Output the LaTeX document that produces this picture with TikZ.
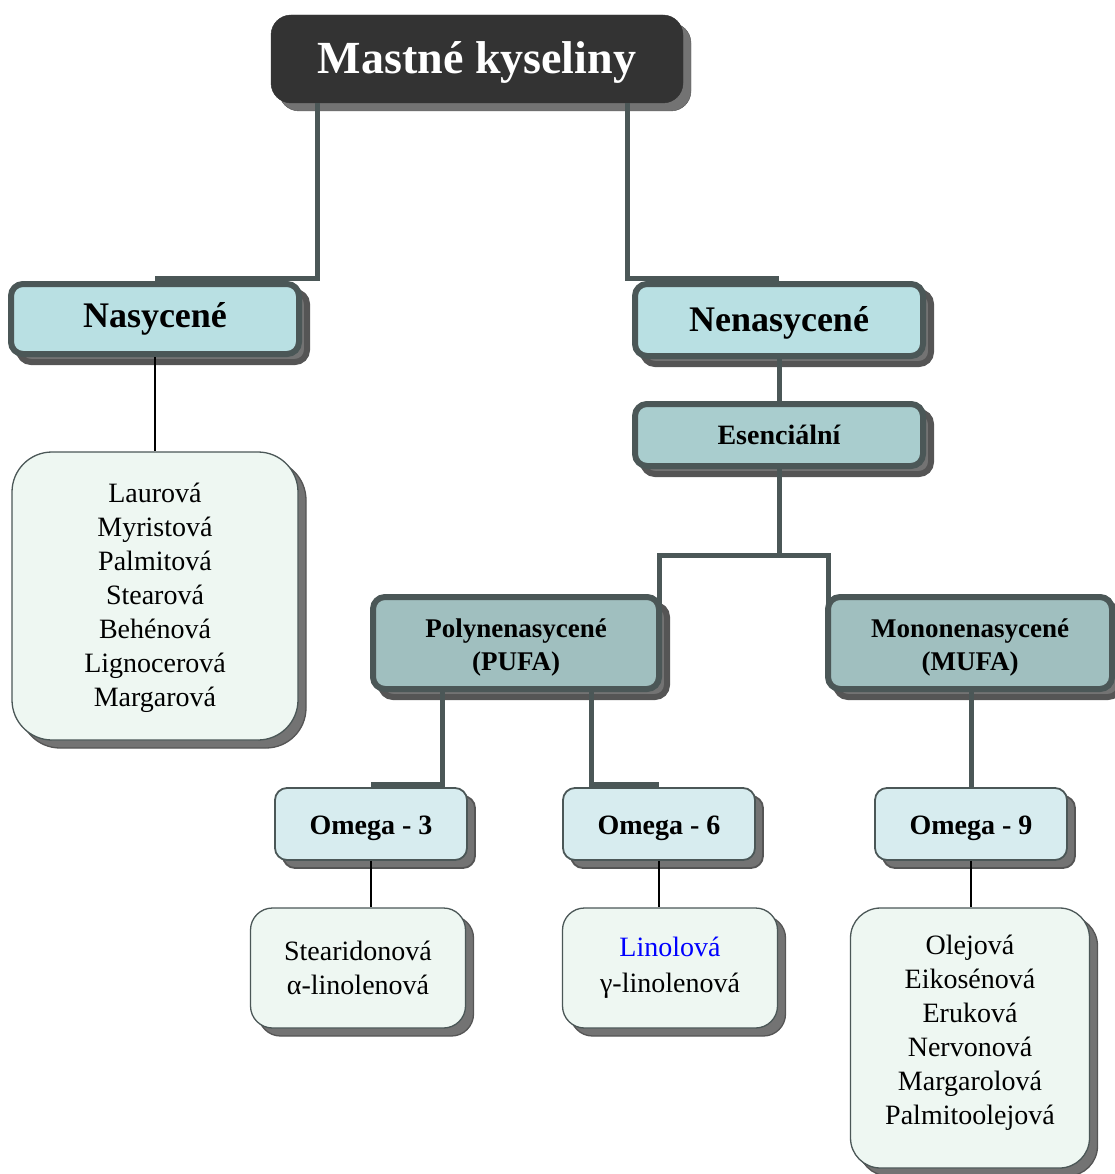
\documentclass[tikz,border=0pt]{standalone}
\usepackage{fontspec}
\setmainfont{Liberation Serif}
\usetikzlibrary{shadows,calc}
\definecolor{slate}{HTML}{4B5757}
\definecolor{titlefill}{HTML}{333333}
\definecolor{cyanA}{HTML}{B9E0E3}
\definecolor{cyanB}{HTML}{A9CDCE}
\definecolor{cyanC}{HTML}{A0BFBF}
\definecolor{cyanD}{HTML}{D7ECEF}
\definecolor{listfill}{HTML}{EEF7F2}
\definecolor{shadowfill}{HTML}{737373}
\definecolor{shadowline}{HTML}{555555}
\newcommand{\shiftedtext}[2]{\raisebox{#1}[\height][\depth]{\begin{tabular}{@{}c@{}}#2\end{tabular}}}
\begin{document}
\begin{tikzpicture}[x=1pt,y=-1pt,
  shad/.style={copy shadow={shadow xshift=8pt,shadow yshift=-8pt,fill=shadowfill,draw=shadowline}},
  thickbox/.style={shad,draw=slate,line width=6pt,rounded corners=12pt,inner sep=0pt,align=center,font={\fontsize{27}{33}\selectfont\bfseries}},
  omegabox/.style={shad,draw=slate,line width=1.8pt,fill=cyanD,rounded corners=12pt,inner sep=0pt,minimum width=192pt,minimum height=72pt,font={\fontsize{28}{34}\selectfont\bfseries}},
  listbox/.style={shad,draw=slate,line width=1.3pt,fill=listfill,inner sep=0pt,align=center,font={\fontsize{28}{34}\selectfont}},
  conn/.style={draw=slate,line width=5pt},
  thinconn/.style={draw=black,line width=1.5pt}
]
\useasboundingbox (0,0) rectangle (1115,1174);

% boxes
\node[shad,fill=titlefill,draw=titlefill,rounded corners=20pt,inner sep=0pt,minimum width=412pt,minimum height=88pt,text=white,font={\fontsize{46}{55}\selectfont\bfseries}] (title) at (477,59) {\shiftedtext{-4pt}{Mastné kyseliny}};

\node[thickbox,fill=cyanA,minimum width=288pt,minimum height=70pt,font={\fontsize{36}{42}\selectfont\bfseries}] (nas) at (155,319) {Nasycené};
\node[thickbox,fill=cyanA,minimum width=288pt,minimum height=72pt,font={\fontsize{36}{42}\selectfont\bfseries}] (nen) at (779,320) {\shiftedtext{-3pt}{Nenasycené}};
\node[thickbox,fill=cyanB,minimum width=288pt,minimum height=62pt,font={\fontsize{28}{34}\selectfont\bfseries}] (esen) at (779,435) {Esenciální};
\node[thickbox,fill=cyanC,minimum width=286pt,minimum height=92pt] (poly) at (516,643) {\shiftedtext{-4pt}{Polynenasycené\\(PUFA)}};
\node[thickbox,fill=cyanC,minimum width=284pt,minimum height=92pt] (mono) at (970,643) {\shiftedtext{-4pt}{Mononenasycené\\(MUFA)}};

\node[omegabox] (om3) at (371,824) {\shiftedtext{-3.5pt}{Omega - 3}};
\node[omegabox] (om6) at (659,824) {\shiftedtext{-3.5pt}{Omega - 6}};
\node[omegabox] (om9) at (971,824) {\shiftedtext{-3.5pt}{Omega - 9}};

\node[listbox,rounded corners=40pt,minimum width=286pt,minimum height=288pt] (naslist) at (155,596) {\shiftedtext{-2pt}{Laurová\\Myristová\\Palmitová\\Stearová\\Behénová\\Lignocerová\\Margarová}};
\node[listbox,rounded corners=22pt,minimum width=215pt,minimum height=120pt] (l3) at (358,968) {\shiftedtext{-3pt}{Stearidonová\\α-linolenová}};
\node[listbox,rounded corners=22pt,minimum width=215pt,minimum height=120pt] (l6) at (670,968) {\shiftedtext{0pt}{\textcolor{blue}{Linolová}\\[2pt]γ-linolenová}};
\node[listbox,rounded corners=30pt,minimum width=239pt,minimum height=260pt] (l9) at (970,1038) {\shiftedtext{5pt}{Olejová\\Eikosénová\\Eruková\\Nervonová\\Margarolová\\Palmitoolejová}};

% connectors
\draw[conn] ($(title.south west)+(47,0)$) |- ([yshift=3pt]nas.north);
\draw[conn] ($(title.south east)+(-56,0)$) |- ([yshift=3pt]nen.north);
\draw[conn] (nen.south) -- (esen.north);
\coordinate (jn) at ($(esen.south)+(0,86)$);
\draw[conn] (esen.south) -- (jn);
\draw[conn] ([xshift=-3pt,yshift=-12pt]poly.north east) |- (jn) -| ([xshift=3pt,yshift=-12pt]mono.north west);
\draw[conn] ($(poly.south west)+(72,0)$) |- ([yshift=2.5pt]om3.north);
\draw[conn] ($(poly.south east)+(-71,0)$) |- ([yshift=2.5pt]om6.north);
\draw[conn] (om9.north |- mono.south) -- (om9.north);

\draw[thinconn] (nas.south) -- (nas.south |- naslist.north);
\draw[thinconn] (om3.south) -- (om3.south |- l3.north);
\draw[thinconn] (om6.south) -- (om6.south |- l6.north);
\draw[thinconn] (om9.south) -- (om9.south |- l9.north);
\end{tikzpicture}
\end{document}
